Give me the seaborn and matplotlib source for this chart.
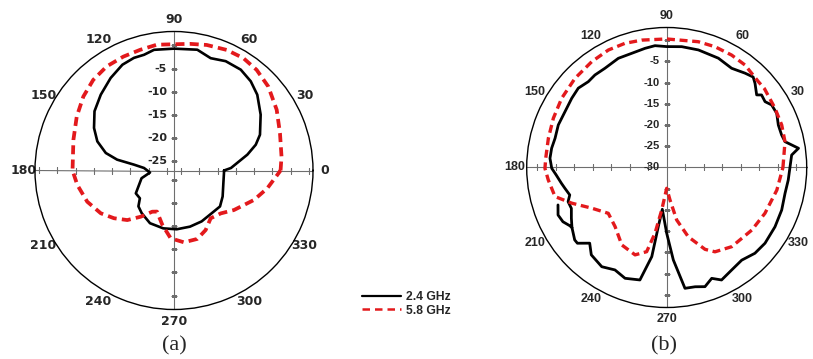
import numpy as np
import pandas as pd
import matplotlib
matplotlib.use("Agg")
import matplotlib.pyplot as plt
from matplotlib.lines import Line2D
import seaborn as sns

# ---------------- data (angles in degrees, gain in dB) ----------------
angle_labels = [0, 30, 60, 90, 120, 150, 180, 210, 240, 270, 300, 330]

a_black_ang = [0, 2.5, 12.2, 17.5, 22.6, 32.8, 42.3, 49.3, 56.5, 64.7,
               71.9, 79.1, 90, 99.4, 104.5, 109.6, 116, 124.4, 134, 143.3,
               152, 159.2, 165.6, 169.2, 171.7, 175.2, 184.8, 193.4, 210.9, 219.2,
               225.2, 232.9, 245.5, 259.5, 272.6, 285.9, 298.5, 311.4, 322, 331.9,
               345.6, 357.7, 360]
a_black_db = [-16.2, -14.7, -10.8, -8.5, -6.9, -4.75, -2.7, -1.6, -0.9, -0.9,
              -1.5, -0.45, -0.7, -0.6, -1.2, -1.2, -1.6, -2.8, -4.25, -5.6,
              -7.45, -9.3, -11.8, -14.5, -18.3, -20.5, -21.8, -19.8, -17.4, -17.5,
              -16.1, -15.45, -14.5, -14.3, -14.3, -14.4, -14.5, -14.7, -14.4, -15.1,
              -16.0, -16.2, -16.2]

a_red_ang = [0, 7.4, 19.4, 30.6, 41.7, 50.6, 58.3, 66.4, 75.4, 82.8,
             90, 97.8, 105.7, 114, 122.9, 131.7, 140.8, 151, 163, 180,
             188.5, 199.8, 210.3, 218.5, 226.7, 234.2, 242.2, 247.5, 257.9, 267.2,
             277.9, 288.8, 298, 307.5, 317.5, 326.6, 339.8, 349.2, 357.5, 360]
a_red_db = [-4.0, -3.6, -2.75, -1.25, 0.25, 1.1, 1.5, 1.4, 1.0, 0.55,
            0.25, 0.4, 0.05, -0.1, -0.25, -0.8, -1.75, -3.0, -4.3, -5.1,
            -5.9, -7.1, -8.7, -10.45, -12.3, -14.7, -16.95, -17.4, -15.0, -12.35,
            -11.35, -11.4, -12.45, -14.0, -13.3, -11.5, -8.6, -6.5, -4.7, -4.0]

b_black_ang = [199, 203.6, 207.6, 211, 212.4, 214.4, 218.2, 220.3, 224.5, 229.2,
               236.8, 243.2, 249.4, 256.6, 260.5, 261.9, 264, 270, 274.1, 278.6,
               283.4, 287.8, 292.1, 296, 302.4, 309, 315.8, 322.4, 331.3, 339.7,
               347.7, 354.1, 360, 5.7, 8.3, 12.3, 15.8, 20.8, 26.2, 30.8,
               33.8, 37.4, 38.9, 43.6, 46.3, 50.3, 56.8, 64.7, 74.9, 82.9,
               90, 95.5, 100.3, 107, 113.9, 121.9, 127.8, 132.4, 138.1, 143.9,
               151.2, 158.6, 165.3, 170.5, 175.5, 180.4, 183.9, 188.5, 191.5, 195.8,
               199.1, 203.2, 208, 212.4]
b_black_db = [-2.9, -2.05, -2.4, -3.35, -3.55, -3.2, -2.4, -2.4, -4.55, -2.8,
              -2.05, -2.95, -2.1, -2.75, -8.7, -15.9, -20.1, -14.5, -8.15, -1.2,
              -1.1, -0.5, -1.8, -0.5, -1.4, -1.9, -1.0, -0.75, -0.9, -1.1,
              -1.45, -1.2, -0.95, -0.4, 1.4, -1.45, -1.85, -1.85, -1.1, -1.2,
              -2.1, -1.85, -2.75, -1.25, -0.5, -1.1, -2.05, -1.5, -1.3, -1.3,
              -1.5, -1.15, -1.45, -1.85, -1.85, -2.45, -2.4, -2.6, -2.0, -2.3,
              -2.65, -2.55, -2.8, -2.5, -2.4, -2.9, -3.9, -4.9, -5.5, -6.25,
              -5.4, -5.55, -4.55, -3.55]

b_red_ang = [0, 12.3, 20.3, 28.7, 38.9, 43.1, 52.6, 60, 68.2, 75.9,
             90, 101.1, 108.6, 116.4, 125.3, 135.8, 146.6, 156.5, 166.1, 175.7,
             180.4, 186, 194.6, 200.6, 208.5, 218.1, 228.9, 239.9, 250.1, 256.6,
             259.9, 263.3, 270, 275.8, 280.8, 287.3, 295.1, 299.8, 309.4, 323.7,
             335, 348.4, 360]
b_red_db = [-2.6, -1.46, -1.1, -0.9, -0.4, -0.4, 0.4, 0.6, 0.66, 0.57,
            0.3, 0.6, 0.88, 0.92, 0.57, 0.15, -0.35, -0.87, -1.27, -1.4,
            -1.3, -1.93, -2.8, -6.1, -9.9, -12.5, -11.5, -8.9, -8.1, -9.6,
            -14.25, -19.9, -25.1, -22.3, -17.4, -12.9, -8.7, -7.1, -5.85, -5.1,
            -4.45, -3.5, -2.6]

a_rticks = [-25, -20, -15, -10, -5]
b_rticks = [-30, -25, -20, -15, -10, -5]
series_labels = ["2.4 GHz", "5.8 GHz"]
panel_labels = ["(a)", "(b)"]

BLACK = "#000000"
RED = "#e3191c"
GRID = "#6e6e6e"

sns.set_style("white")
plt.rcParams["font.family"] = ["DejaVu Sans"]

fig = plt.figure(figsize=(8.13, 3.59), dpi=100)

W, H = 813.0, 359.0


def make_ax(cx, cy, R):
    ax = fig.add_axes([(cx - R) / W, 1 - (cy + R) / H, 2 * R / W, 2 * R / H],
                      projection="polar")
    return ax


def draw_panel(ax, rmin, rmax, black_ang, black_db, red_ang, red_db, rticks,
               hstep, hstart, font, lab_size, rlab_size, dash, red_lw, blk_lw,
               hide_zero=False):
    ax.set_ylim(rmin, rmax)
    ax.grid(False)
    ax.set_yticks([])
    ax.spines["polar"].set_linewidth(1.0)
    ax.spines["polar"].set_color("black")
    ax.set_xticks(np.deg2rad(angle_labels))
    labs = [str(a) for a in angle_labels]
    if hide_zero:
        labs[0] = ""
    ax.set_xticklabels(labs, fontweight="bold", fontsize=lab_size, family=font)
    ax.tick_params(axis="x", pad=1.5, length=0)

    # crosshair axes
    for th in [0, 90, 180, 270]:
        ax.plot([np.deg2rad(th)] * 2, [rmin, rmax], color=GRID, lw=0.8,
                zorder=1)
    # small tick marks along the crosshair
    vt = [v for v in np.arange(rticks[0], 0.1, 5) if v > rmin]
    ax.plot(np.full(len(vt), np.pi / 2), vt, ls="none", marker="_", ms=5,
            mew=0.8, color=GRID, zorder=1)
    ax.plot(np.full(len(vt), 3 * np.pi / 2), vt, ls="none", marker="_", ms=5,
            mew=0.8, color=GRID, zorder=1)
    ht = np.arange(hstart, rmax - 0.5, hstep)
    ax.plot(np.zeros(len(ht)), ht, ls="none", marker="|", ms=5, mew=0.8,
            color=GRID, zorder=1)
    ax.plot(np.full(len(ht), np.pi), ht, ls="none", marker="|", ms=5,
            mew=0.8, color=GRID, zorder=1)

    # radial labels along 90 deg
    for v in rticks:
        ax.annotate(str(v), xy=(np.pi / 2, v), xytext=(-5, 0),
                    textcoords="offset points", ha="right", va="center",
                    fontsize=rlab_size, fontweight="bold", family=font,
                    zorder=5)

    dfb = pd.DataFrame({"theta": np.unwrap(np.deg2rad(black_ang)),
                        "r": black_db})
    dfr = pd.DataFrame({"theta": np.unwrap(np.deg2rad(red_ang)),
                        "r": red_db})
    sns.lineplot(data=dfb, x="theta", y="r", sort=False, estimator=None,
                 color=BLACK, lw=blk_lw, ax=ax, zorder=3)
    sns.lineplot(data=dfr, x="theta", y="r", sort=False, estimator=None,
                 color=RED, lw=red_lw, ax=ax, zorder=4)
    ax.get_lines()[-1].set_linestyle((0, dash))
    ax.set_xlabel("")
    ax.set_ylabel("")
    ax.set_ylim(rmin, rmax)


ax_a = make_ax(174, 170.5, 139)
draw_panel(ax_a, -27, 3, a_black_ang, a_black_db, a_red_ang, a_red_db,
           a_rticks, 3.95, -25.5, "DejaVu Sans", 9, 8, (2.4, 1.4), 2.7, 1.9)

ax_b = make_ax(666.7, 167.5, 140)
draw_panel(ax_b, -30, 3, b_black_ang, b_black_db, b_red_ang, b_red_db,
           b_rticks, 4.36, -30 + 4.36, "Liberation Sans", 9, 8,
           (2.4, 1.4), 2.4, 2.0, hide_zero=True)

# legend
handles = [Line2D([], [], color=BLACK, lw=1.6),
           Line2D([], [], color=RED, lw=1.8, ls=(0, (3, 2)))]
fig.legend(handles, series_labels, loc="center left",
           bbox_to_anchor=(362 / W, 1 - 304 / H), frameon=False,
           handlelength=3.2, handletextpad=0.4, labelspacing=0.1,
           borderpad=0, borderaxespad=0,
           prop={"family": "Liberation Sans", "weight": "bold", "size": 8.7})

for lab, cx in zip(panel_labels, [174, 664]):
    fig.text(cx / W, 1 - 346 / H, lab, ha="center", va="center",
             family="Liberation Serif", fontsize=16)

fig.savefig("out.png", dpi=100)
